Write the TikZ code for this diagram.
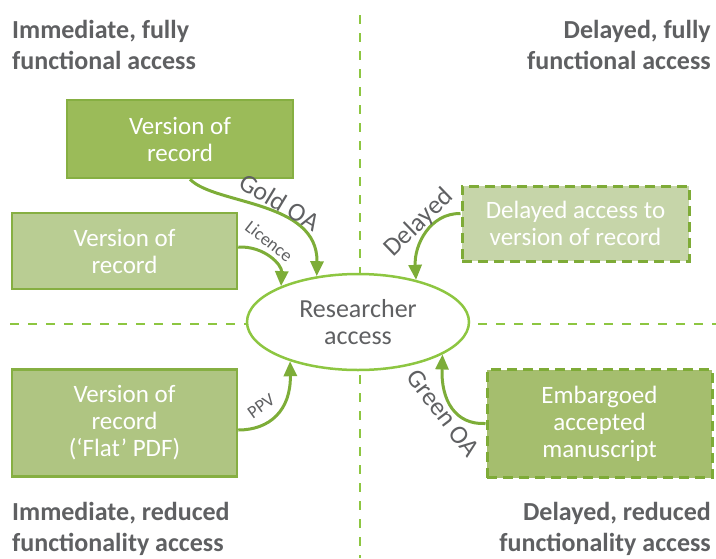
\documentclass[tikz,border=0pt]{standalone}
\usepackage{fontspec}
\setmainfont{Carlito}
\usepackage{tikz}
\usetikzlibrary{calc}
\usetikzlibrary{arrows.meta, shapes.geometric}
\definecolor{oaGreen}{HTML}{7DAD38}
\definecolor{lineGreen}{HTML}{8DC641}
\definecolor{boxEdge}{HTML}{86AF42}
\definecolor{dashEdge}{HTML}{7EAB37}
\definecolor{textGray}{HTML}{5F6062}
\definecolor{fillA}{HTML}{9BBB59}
\definecolor{fillB}{HTML}{B9CD93}
\definecolor{fillC}{HTML}{AFC582}
\definecolor{fillD}{HTML}{C6D5A9}
\definecolor{fillE}{HTML}{A5BE6E}

\begin{document}
\begin{tikzpicture}[x=1pt, y=-1pt,
  box/.style = {draw=boxEdge, line width=2.5pt, text=white, align=center, inner sep=0pt, font=\fontsize{25}{27}\selectfont},
  dbox/.style = {box, draw=dashEdge, dash pattern=on 10pt off 6pt, line width=3pt},
  flow/.style = {draw=oaGreen, line width=3pt, -{Triangle[length=15pt, width=13pt]}},
  lbl/.style = {text=textGray, inner sep=0pt, font=\fontsize{26}{27}\selectfont},
  slbl/.style = {lbl, font=\fontsize{18}{20}\selectfont},
  quad/.style = {draw=lineGreen, line width=2.5pt, dash pattern=on 9pt off 9pt},
  corner/.style = {text=textGray, inner sep=0pt, font=\bfseries\fontsize{26}{31}\selectfont}]
  \useasboundingbox (0,0) rectangle (716,558);

  %quadrants
  \draw[quad] (360,15) -- (360,558);
  \draw[quad] (10,324) -- (716,324);

  %researcher
  \node[lbl, ellipse, draw=lineGreen, fill=white, line width=2.5pt, align=center,
        minimum width=222pt, minimum height=96pt] (res) at (358,322) {Researcher\\access};

  %corner labels
  \node[corner, anchor=north west, align=left] (tl) at (12,20) {Immediate, fully\\functional access};
  \node[corner, anchor=north east, align=right] (tr) at (711,20) {Delayed, fully\\functional access};
  \node[corner, anchor=north west, align=left] (bl) at (12,502) {Immediate, reduced\\functionality access};
  \node[corner, anchor=north east, align=right] (br) at (711,502) {Delayed, reduced\\functionality access};

  %boxes
  \node[box, fill=fillA, minimum width=226pt, minimum height=78pt] (vorA) at (180,139) {Version of\\record};
  \node[box, fill=fillB, minimum width=225pt, minimum height=76pt] (vorB) at (124.5,251) {Version of\\record};
  \node[box, fill=fillC, minimum width=225pt, minimum height=107pt] (vorC) at (124.5,423) {Version of\\record\\(‘Flat’ PDF)};
  \node[dbox, fill=fillD, minimum width=227pt, minimum height=75pt] (delay) at (575.5,223.5) {Delayed access to\\version of record};
  \node[dbox, fill=fillE, minimum width=225pt, minimum height=108pt] (embargo) at (599.5,423.5) {Embargoed\\accepted\\manuscript};

  %routes
  \draw[flow] ([xshift=10pt]vorA.south) .. controls (215,205) and (318,200) .. (res.132);
  \draw[flow] ([yshift=4pt]vorB.east) .. controls (265,246) and (282,265) .. (res.155);
  \draw[flow] ([yshift=10pt]delay.west) .. controls (430,213) and (414,245) .. (res.36);
  \draw[flow] ([yshift=-7pt]vorC.east) .. controls (270,430) and (291,410) .. (res.210);
  \draw[flow] (embargo.west) .. controls (455,425) and (441,400) .. (res.339);

  %route labels
  \node[lbl, rotate=-31] (goldlbl) at (280,202) {Gold OA};
  \node[slbl, rotate=-38] (liclbl) at (269,241) {Licence};
  \node[lbl, rotate=44] (dellbl) at (419,223) {Delayed};
  \node[slbl, rotate=36] (ppvlbl) at (261,406) {PPV};
  \node[lbl, rotate=-53] (greenlbl) at (443,413) {Green OA};
\end{tikzpicture}
\end{document}
